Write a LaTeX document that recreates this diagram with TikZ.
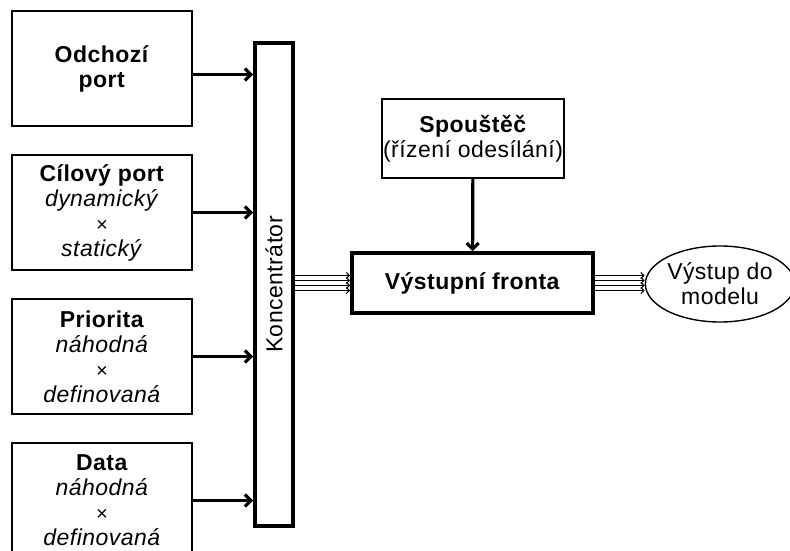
\documentclass[tikz,border=0pt]{standalone}
\usepackage{fontspec}
\setmainfont{Liberation Sans}[LetterSpace=2]
\usetikzlibrary{arrows.meta,positioning,shapes.geometric}

\begin{document}
\begin{tikzpicture}[x=1pt,y=1pt,>={Straight Barb[length=6pt,width=12pt]},node distance=144pt,auto,
  font=\fontsize{23}{25}\selectfont]
 \tikzstyle{input node}=[rectangle,draw,line width=2pt,minimum width=180pt,minimum height=115pt,align=center,inner sep=1pt]
 \tikzstyle{konc node}=[rectangle,draw,line width=3.6pt,minimum width=38pt,minimum height=483pt,inner sep=0pt]
 \tikzset{
 	queue node/.style={rectangle,draw,line width=3.6pt,minimum width=241pt,minimum height=60pt},
 	trigger node/.style={rectangle,draw,line width=2pt,minimum width=180pt,minimum height=79pt,align=center,inner sep=1pt},
 	out node/.style={ellipse,draw,line width=1.4pt,minimum width=138pt,minimum height=76pt,align=center,inner sep=0pt},
 	thick arrow/.style={->,line width=3.2pt},
 	bus line/.style={-{Straight Barb[length=3pt,width=6pt]},line width=1.2pt}
 }
 \useasboundingbox (0,0) rectangle (790,550);

       \node[input node] (op) at (102,481.5) {\textbf{Odchozí}\\\textbf{port}};
       \node[input node] (cp) [below of=op] {\textbf{Cílový port}\\\textit{dynamický}\\{\fontsize{20}{25}\selectfont\textit{×}}\\\textit{statický}};
       \node[input node] (pr) [below of=cp] {\textbf{Priorita}\\\textit{náhodná}\\{\fontsize{20}{25}\selectfont\textit{×}}\\\textit{definovaná}};
       \node[input node] (da) [below of=pr] {\textbf{Data}\\\textit{náhodná}\\{\fontsize{20}{25}\selectfont\textit{×}}\\\textit{definovaná}};

       \node[konc node] (konc) at (274,265.5) {\rotatebox{90}{Koncentrátor}};
       \node[queue node] (queue) at (472.5,267) {\textbf{Výstupní fronta}};
       \node[trigger node] (trig) at (473,411.5) {\textbf{Spouštěč}\\(řízení odesílání)};
       \node[out node] (out) at (720,266) {Výstup do\\modelu};

     \path[thick arrow]  ([yshift=-6pt]op.east) edge ([yshift=-6pt]op.east -| konc.west);
     \path[thick arrow]  (cp) edge (cp.east -| konc.west);
     \path[thick arrow]  (pr) edge (pr.east -| konc.west);
     \path[thick arrow]  (da) edge (da.east -| konc.west);
     \path[thick arrow]  (trig) edge (queue);

     \foreach \d in {-7.5,-2.5,2.5,7.5} {
       \draw[bus line] ([yshift=\d pt]queue.west -| konc.east) -- ([yshift=\d pt]queue.west);
       \draw[bus line] ([yshift=\d pt]queue.east) -- ([yshift=\d pt]queue.east -| out.west);
     }
\end{tikzpicture}
\end{document}
